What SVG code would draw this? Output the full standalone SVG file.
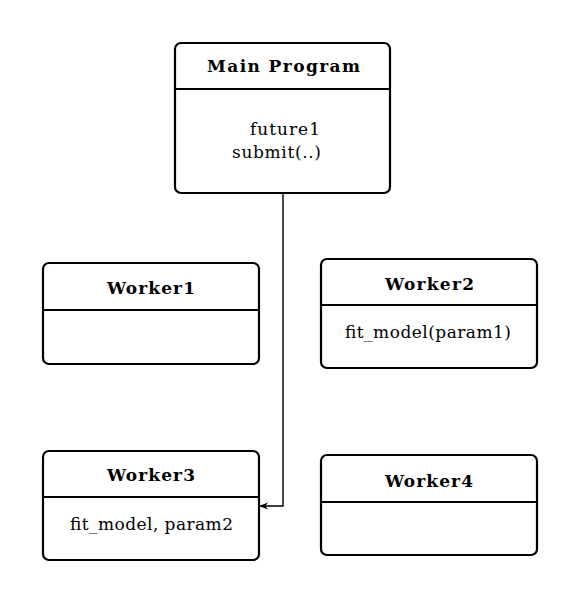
<svg xmlns="http://www.w3.org/2000/svg" width="580" height="604" viewBox="0 0 580 604">
<defs>
<style>
.box{fill:#fff;stroke:#000;stroke-width:2.2}
.div{stroke:#000;stroke-width:2.2}
.t{font-family:"DejaVu Serif",serif;font-size:17px;fill:#000;text-anchor:middle}
.b{font-weight:bold}
.c{fill:none;stroke:#000;stroke-width:1.4}
</style>
<marker id="ah" viewBox="0 0 10 10" refX="9" refY="5" markerWidth="9" markerHeight="9" markerUnits="userSpaceOnUse" orient="auto">
<path d="M0,1 L10,5 L0,9 L3,5 Z" fill="#000"/>
</marker>
</defs>
<rect width="580" height="604" fill="#fff"/>
<g id="connectors">
<path class="c" d="M283,193 V506 H260" marker-end="url(#ah)"/>
</g>
<g id="main">
<rect class="box" x="175" y="43" width="215" height="150" rx="6"/>
<line class="div" x1="175" y1="89" x2="390" y2="89"/>
<text class="t b" x="283.5" y="72" textLength="153" lengthAdjust="spacing">Main Program</text>
<text class="t" x="285" y="135" textLength="70" lengthAdjust="spacing">future1</text>
<text class="t" x="276.5" y="158" textLength="89" lengthAdjust="spacing">submit(..)</text>
</g>
<g id="worker1">
<rect class="box" x="43" y="263" width="216" height="101" rx="6"/>
<line class="div" x1="43" y1="310" x2="259" y2="310"/>
<text class="t b" x="151" y="294" textLength="88" lengthAdjust="spacing">Worker1</text>
</g>
<g id="worker2">
<rect class="box" x="321" y="259" width="216" height="109" rx="6"/>
<line class="div" x1="321" y1="305" x2="537" y2="305"/>
<text class="t b" x="429.5" y="290" textLength="89" lengthAdjust="spacing">Worker2</text>
<text class="t" x="428" y="338" textLength="166" lengthAdjust="spacing">fit_model(param1)</text>
</g>
<g id="worker3">
<rect class="box" x="43" y="451" width="216" height="109" rx="6"/>
<line class="div" x1="43" y1="497" x2="259" y2="497"/>
<text class="t b" x="151" y="481" textLength="88" lengthAdjust="spacing">Worker3</text>
<text class="t" x="151.5" y="530" textLength="163" lengthAdjust="spacing">fit_model, param2</text>
</g>
<g id="worker4">
<rect class="box" x="321" y="455" width="216" height="100" rx="6"/>
<line class="div" x1="321" y1="502" x2="537" y2="502"/>
<text class="t b" x="429" y="487" textLength="88" lengthAdjust="spacing">Worker4</text>
</g>
</svg>
